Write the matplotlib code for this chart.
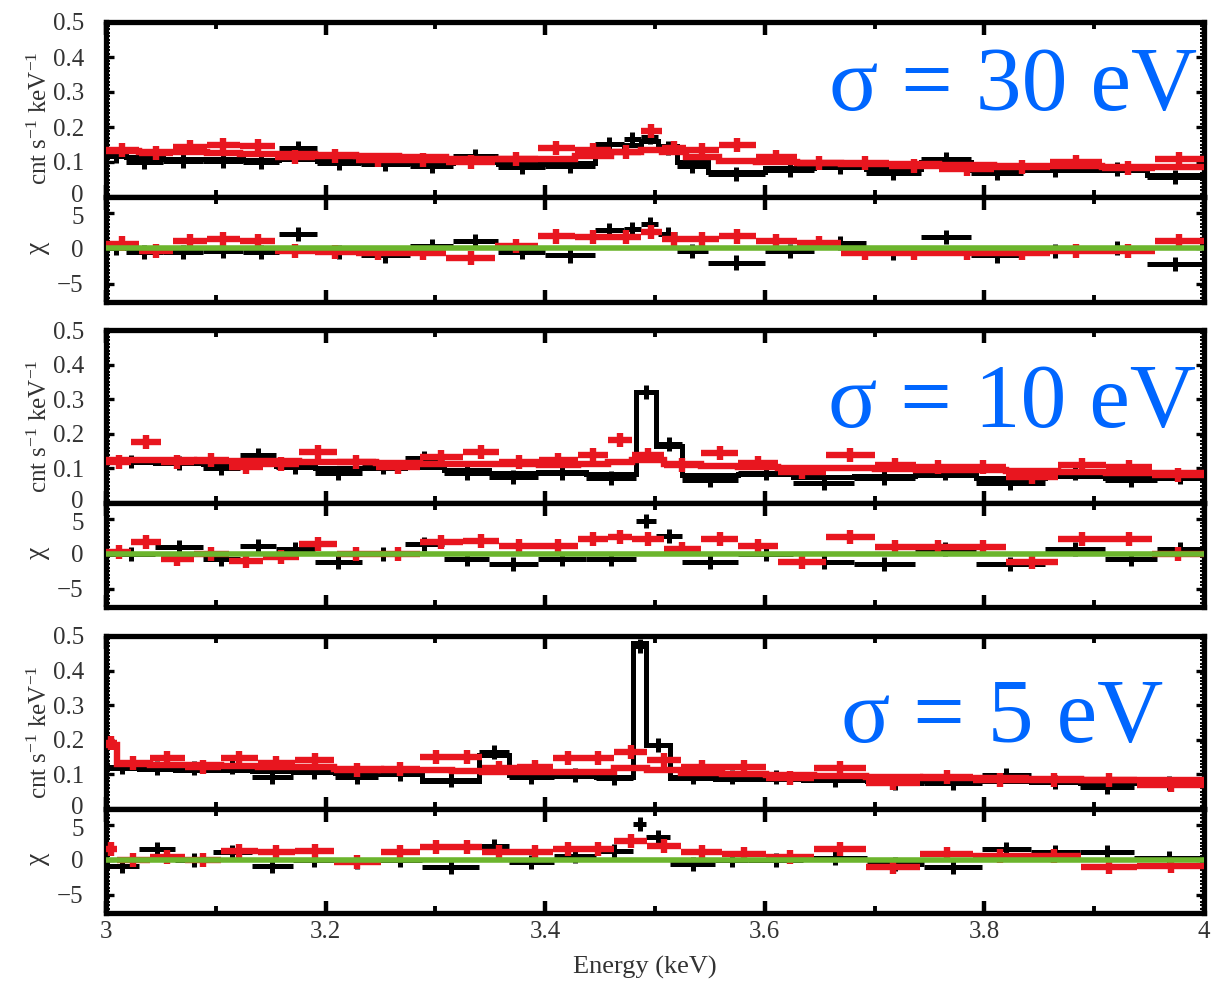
import matplotlib
matplotlib.use("Agg")
import matplotlib.pyplot as plt
import matplotlib.transforms as mtransforms
from matplotlib.ticker import MultipleLocator, FuncFormatter
import numpy as np

plt.rcParams['font.family'] = ['Liberation Serif', 'DejaVu Serif']
plt.rcParams['mathtext.fontset'] = 'custom'
plt.rcParams['mathtext.rm'] = 'Liberation Serif'
plt.rcParams['mathtext.it'] = 'Liberation Serif:italic'

# ---------------- data: line width sigma labels ----------------
sigma_labels = ["σ = 30 eV", "σ = 10 eV", "σ = 5 eV"]
x_ticks = [3.0, 3.2, 3.4, 3.6, 3.8, 4.0]
x_tick_labels = ["3", "3.2", "3.4", "3.6", "3.8", "4"]

# ---------------- panel 1 : sigma = 30 eV ----------------
black_edges_30 = [3.000, 3.018, 3.052, 3.088, 3.125, 3.158, 3.192, 3.232, 3.277, 3.316, 3.357,
                  3.400, 3.445, 3.472, 3.487, 3.503, 3.520, 3.548, 3.600, 3.645, 3.692, 3.742,
                  3.788, 3.835, 3.893, 3.948, 4.000]
black_data_30 = [0.118, 0.100, 0.102, 0.104, 0.100, 0.140, 0.097, 0.095, 0.090, 0.118, 0.085,
                 0.088, 0.152, 0.165, 0.172, 0.140, 0.090, 0.066, 0.078, 0.085, 0.070, 0.110,
                 0.068, 0.078, 0.080, 0.058]
black_model_30 = [0.118, 0.113, 0.110, 0.108, 0.106, 0.110, 0.103, 0.101, 0.098, 0.100, 0.095,
                  0.098, 0.130, 0.150, 0.160, 0.145, 0.100, 0.072, 0.084, 0.085, 0.080, 0.100,
                  0.078, 0.080, 0.078, 0.062]
black_chi_30 = [0.0, -0.5, -0.5, -0.3, -0.5, 2.1, -0.5, -1.0, 0.3, 1.1, -0.5,
                -1.0, 2.6, 2.8, 3.5, 2.0, -0.3, -2.0, -0.4, 0.8, -0.7, 1.6,
                -1.0, -0.3, 0.0, -2.2]

red_edges_30 = [3.000, 3.030, 3.061, 3.092, 3.122, 3.154, 3.190, 3.228, 3.267, 3.310, 3.354,
                3.393, 3.427, 3.460, 3.487, 3.506, 3.528, 3.558, 3.592, 3.629, 3.669, 3.713,
                3.759, 3.809, 3.860, 3.907, 3.955, 4.000]
red_data_30 = [0.134, 0.126, 0.143, 0.149, 0.146, 0.115, 0.118, 0.106, 0.106, 0.100, 0.110,
               0.140, 0.134, 0.130, 0.190, 0.140, 0.134, 0.148, 0.114, 0.097, 0.097, 0.090,
               0.080, 0.086, 0.100, 0.083, 0.108]
red_model_30 = [0.132, 0.130, 0.128, 0.126, 0.124, 0.122, 0.119, 0.116, 0.113, 0.110, 0.108,
                0.110, 0.118, 0.130, 0.134, 0.128, 0.115, 0.104, 0.099, 0.097, 0.095, 0.093,
                0.091, 0.089, 0.088, 0.086, 0.085]
red_chi_30 = [0.7, -0.3, 1.1, 1.4, 1.1, -0.3, -0.5, -0.6, -0.7, -1.4, 0.4,
              1.7, 1.6, 1.6, 2.3, 1.4, 1.4, 1.7, 1.1, 0.8, -0.6, -0.7,
              -0.7, -0.6, -0.3, -0.3, 1.1]

# ---------------- panel 2 : sigma = 10 eV ----------------
black_edges_10 = [3.000, 3.045, 3.088, 3.122, 3.155, 3.190, 3.233, 3.272, 3.308, 3.349, 3.393,
                  3.437, 3.483, 3.501, 3.525, 3.576, 3.626, 3.681, 3.737, 3.792, 3.855, 3.910,
                  3.957, 4.000]
black_data_10 = [0.120, 0.116, 0.100, 0.139, 0.104, 0.087, 0.104, 0.130, 0.087, 0.075, 0.087,
                 0.072, 0.320, 0.170, 0.066, 0.087, 0.058, 0.072, 0.087, 0.058, 0.087, 0.066,
                 0.075]
black_model_10 = [0.118, 0.115, 0.112, 0.115, 0.108, 0.100, 0.100, 0.105, 0.095, 0.088, 0.090,
                  0.085, 0.320, 0.165, 0.082, 0.085, 0.075, 0.078, 0.080, 0.072, 0.078, 0.072,
                  0.072]
black_chi_10 = [0.0, 1.0, -0.7, 1.1, 0.7, -1.1, 0.0, 1.4, -0.7, -1.4, -0.7,
                -0.7, 4.7, 2.6, -1.1, 0.0, -1.1, -1.4, 0.7, -1.4, 0.7, -0.7,
                0.7]

red_edges_10 = [3.000, 3.023, 3.050, 3.080, 3.112, 3.143, 3.176, 3.210, 3.246, 3.286, 3.325,
                3.358, 3.394, 3.430, 3.457, 3.479, 3.508, 3.542, 3.576, 3.612, 3.656, 3.700,
                3.738, 3.777, 3.820, 3.867, 3.911, 3.953, 4.000]
red_data_10 = [0.118, 0.176, 0.118, 0.124, 0.104, 0.113, 0.147, 0.118, 0.104, 0.133, 0.147,
               0.118, 0.124, 0.139, 0.182, 0.139, 0.110, 0.144, 0.116, 0.090, 0.139, 0.110,
               0.104, 0.104, 0.075, 0.110, 0.104, 0.081]
red_model_10 = [0.125, 0.124, 0.123, 0.122, 0.121, 0.120, 0.119, 0.118, 0.116, 0.114, 0.113,
                0.112, 0.111, 0.112, 0.118, 0.125, 0.113, 0.106, 0.104, 0.102, 0.100, 0.098,
                0.096, 0.094, 0.092, 0.090, 0.088, 0.086]
red_chi_10 = [0.3, 1.7, -0.7, 0.0, -1.0, -0.4, 1.4, 0.0, 0.0, 1.7, 1.9,
              1.1, 1.1, 2.1, 2.4, 2.1, 0.7, 2.1, 1.1, -1.1, 2.4, 1.0,
              1.0, 1.0, -1.1, 2.1, 2.1, 0.0]

# ---------------- panel 3 : sigma = 5 eV ----------------
black_edges_5 = [3.000, 3.030, 3.063, 3.097, 3.133, 3.170, 3.209, 3.248, 3.288, 3.340, 3.367,
                 3.408, 3.446, 3.480, 3.492, 3.514, 3.555, 3.585, 3.635, 3.693, 3.745, 3.798,
                 3.842, 3.887, 3.936, 4.000]
black_data_5 = [0.121, 0.118, 0.118, 0.121, 0.092, 0.107, 0.092, 0.100, 0.084, 0.165, 0.092,
                0.098, 0.090, 0.470, 0.185, 0.092, 0.092, 0.092, 0.084, 0.075, 0.075, 0.098,
                0.078, 0.064, 0.075]
black_model_5 = [0.118, 0.116, 0.114, 0.113, 0.110, 0.107, 0.104, 0.102, 0.080, 0.155, 0.097,
                 0.095, 0.093, 0.480, 0.185, 0.090, 0.088, 0.086, 0.084, 0.082, 0.080, 0.080,
                 0.078, 0.076, 0.074]
black_chi_5 = [-0.8, 1.6, 0.0, 1.1, -0.9, 0.0, -0.3, 0.0, -1.0, 2.0, -0.3,
               0.6, 1.3, 5.1, 3.3, -0.6, 0.0, 0.0, 0.3, -0.6, -1.0, 1.6,
               1.1, 1.1, 0.3]

red_edges_5 = [3.000, 3.010, 3.040, 3.072, 3.105, 3.138, 3.172, 3.208, 3.250, 3.286, 3.315,
               3.342, 3.374, 3.407, 3.434, 3.463, 3.493, 3.524, 3.561, 3.601, 3.645, 3.692,
               3.741, 3.790, 3.838, 3.888, 3.939, 4.000]
red_data_5 = [0.190, 0.133, 0.147, 0.121, 0.147, 0.133, 0.142, 0.113, 0.116, 0.150, 0.150,
              0.118, 0.121, 0.147, 0.147, 0.165, 0.142, 0.121, 0.121, 0.090, 0.118, 0.075,
              0.092, 0.084, 0.084, 0.084, 0.070]
red_model_5 = [0.185, 0.130, 0.128, 0.126, 0.124, 0.122, 0.120, 0.117, 0.114, 0.112, 0.110,
               0.108, 0.107, 0.106, 0.108, 0.118, 0.112, 0.104, 0.101, 0.098, 0.096, 0.093,
               0.091, 0.089, 0.087, 0.085, 0.083]
red_chi_5 = [1.6, 0.0, 0.4, 0.0, 1.3, 1.1, 1.3, -0.3, 1.1, 1.9, 1.9,
             1.1, 1.1, 1.6, 1.6, 2.7, 2.0, 1.1, 0.9, 0.4, 1.6, -1.0,
             0.9, 0.6, 0.6, -1.0, -0.9]

spec_err = 0.02   # 1-sigma count-rate error
chi_err = 1.0

BLACK = "#000000"
RED = "#e8161f"
GREEN = "#6cb52d"
BLUE = "#0066ff"
LABEL = "#333333"

W, H = 1211, 983
fig = plt.figure(figsize=(W / 100, H / 100), dpi=100)


def fx(px):
    return px / W


def fy(py):
    return 1 - py / H


X0, X1 = 106, 1204
panel_rows = [(22, 197, 302), (330, 503, 607), (636, 809, 913)]
label_centres = [(1013, 110), (1012, 427), (1002, 742)]

panels = [
    (black_edges_30, black_data_30, black_model_30, black_chi_30,
     red_edges_30, red_data_30, red_model_30, red_chi_30),
    (black_edges_10, black_data_10, black_model_10, black_chi_10,
     red_edges_10, red_data_10, red_model_10, red_chi_10),
    (black_edges_5, black_data_5, black_model_5, black_chi_5,
     red_edges_5, red_data_5, red_model_5, red_chi_5),
]


def style_axis(ax):
    ax.set_xlim(3.0, 4.0)
    ax.xaxis.set_major_locator(MultipleLocator(0.2))
    ax.xaxis.set_minor_locator(MultipleLocator(0.1))
    ax.tick_params(which='both', direction='in', top=True, right=True,
                   labelcolor=LABEL, labelsize=18, color='black')
    ax.tick_params(axis='x', which='major', length=9, width=3.2)
    ax.tick_params(axis='x', which='minor', length=5, width=2.8)
    ax.tick_params(axis='y', which='major', length=6, width=2.4)
    ax.tick_params(axis='y', which='minor', length=3, width=1.4)
    ax.tick_params(axis='y', which='major', pad=16)
    ax.tick_params(axis='x', which='major', pad=6)
    for sp in ax.spines.values():
        sp.set_linewidth(3.8)
        sp.set_color('black')


def draw_series(ax_s, ax_r, edges, data, model, chi, color, lw, z):
    e = np.asarray(edges)
    cen = 0.5 * (e[:-1] + e[1:])
    hw = 0.5 * np.diff(e)
    ax_s.stairs(model, e, baseline=None, color=color, lw=lw, zorder=z)
    ax_s.errorbar(cen, data, xerr=hw, yerr=spec_err, fmt='none', ecolor=color,
                  elinewidth=lw, capsize=0, zorder=z + 0.5)
    ax_r.errorbar(cen, chi, xerr=hw, yerr=chi_err, fmt='none', ecolor=color,
                  elinewidth=lw, capsize=0, zorder=z + 0.5)


def nudge_label(ax, index, dy_px):
    """Shift one y tick label vertically by dy_px pixels (positive = up)."""
    tick = ax.yaxis.get_major_ticks()[index]
    off = mtransforms.ScaledTranslation(0, dy_px / 100, fig.dpi_scale_trans)
    tick.label1.set_transform(tick.label1.get_transform() + off)


spec_fmt = FuncFormatter(lambda v, p: "0" if abs(v) < 1e-9 else f"{v:.1f}")

for i, (rows, pdata) in enumerate(zip(panel_rows, panels)):
    top, mid, bot = rows
    ax_s = fig.add_axes([fx(X0), fy(mid), fx(X1) - fx(X0), fy(top) - fy(mid)])
    ax_r = fig.add_axes([fx(X0), fy(bot), fx(X1) - fx(X0), fy(mid) - fy(bot)])
    for ax in (ax_s, ax_r):
        style_axis(ax)

    be, bd, bm, bc, re_, rd, rm, rc = pdata
    draw_series(ax_s, ax_r, be, bd, bm, bc, BLACK, 3.6, 3)
    draw_series(ax_s, ax_r, re_, rd, rm, rc, RED, 4.6, 4)
    ax_r.axhline(0, color=GREEN, lw=4.0, zorder=10)

    ax_s.set_ylim(0, 0.5)
    ax_s.set_yticks([0.0, 0.1, 0.2, 0.3, 0.4, 0.5])
    ax_s.yaxis.set_minor_locator(MultipleLocator(0.01))
    ax_s.yaxis.set_major_formatter(spec_fmt)
    ax_s.tick_params(axis='x', labelbottom=False)

    ax_r.set_ylim(-7.6, 7.3)
    ax_r.set_yticks([-5, 0, 5])
    ax_r.yaxis.set_minor_locator(MultipleLocator(0.5))
    if i < 2:
        ax_r.tick_params(axis='x', labelbottom=False)
    else:
        ax_r.set_xticks(x_ticks)
        ax_r.set_xticklabels(x_tick_labels)

    # keep the "0" of the spectrum and the "5" of the residuals apart
    nudge_label(ax_s, 0, 3)
    nudge_label(ax_r, 2, -2)

    fig.text(fx(40), fy(top + 96), r'cnt s$^{-1}$ keV$^{-1}$', rotation=90,
             ha='center', va='center', fontsize=18, color=LABEL)
    fig.text(fx(37), fy((mid + bot) / 2 - 2), 'χ', rotation=90,
             ha='center', va='center', fontsize=20, color=LABEL)

    cx, by = label_centres[i]
    fig.text(fx(cx), fy(by), sigma_labels[i], ha='center', va='baseline',
             fontsize=66, color=BLUE, zorder=20)

fig.text(fx(645), fy(967), 'Energy (keV)', ha='center', va='center',
         fontsize=19, color=LABEL)

fig.savefig("out.png", dpi=100)
